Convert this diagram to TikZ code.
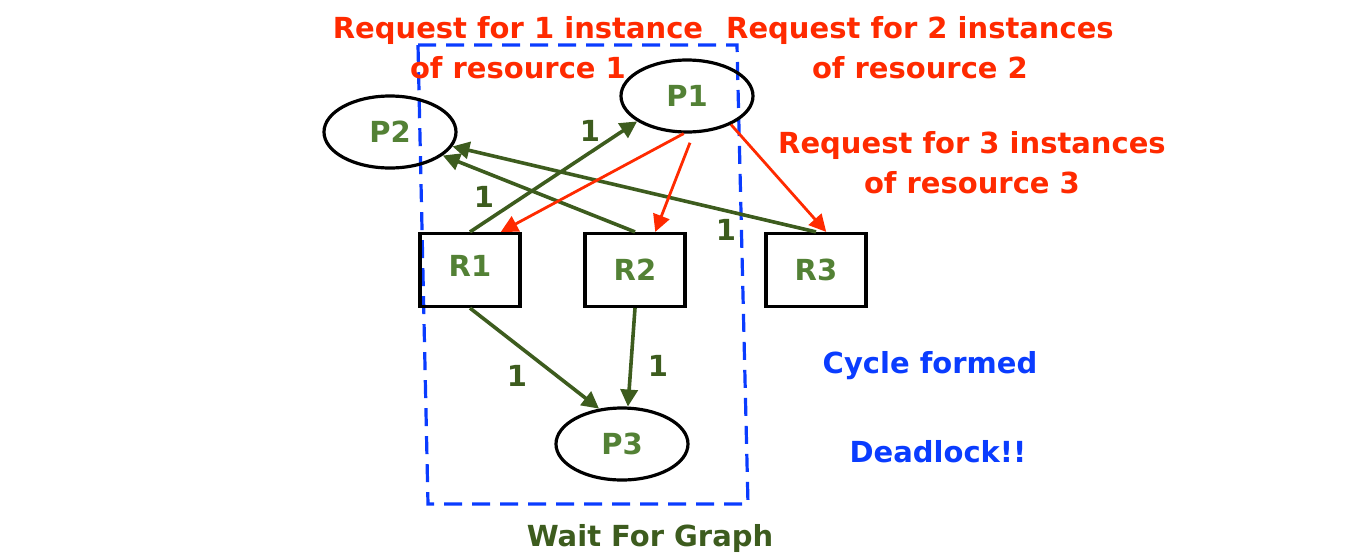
\documentclass[tikz,border=0pt]{standalone}
\usepackage{fontspec}
\setmainfont{DejaVu Sans}
\usetikzlibrary{arrows.meta,shapes.geometric}
\definecolor{ReqRed}{HTML}{FF2A00}
\definecolor{NodeGreen}{HTML}{538135}
\definecolor{EdgeGreen}{HTML}{3D5C1E}
\definecolor{WfgBlue}{HTML}{0A3CFF}
\begin{document}
\begin{tikzpicture}[x=0.5pt,y=-0.5pt,
    every node/.style={font=\fontsize{14.5}{20}\selectfont\bfseries},
    proc/.style={ellipse,draw=black,line width=1.6pt,minimum width=66pt,
      minimum height=36pt,inner sep=0pt,text=NodeGreen},
    res/.style={rectangle,draw=black,line width=1.6pt,minimum width=50pt,
      minimum height=36.5pt,inner sep=0pt,text=NodeGreen},
    held/.style={-{Triangle[length=8.5pt,width=8.5pt]},line width=1.8pt,EdgeGreen},
    req/.style={-{Triangle[length=8.5pt,width=8.5pt]},line width=1.4pt,ReqRed},
    cnt/.style={text=EdgeGreen},
    note/.style={text=ReqRed,align=center}
  ]
    \useasboundingbox (0,0) rectangle (1357,558);
    % wait for graph region
    \draw[WfgBlue,line width=1.6pt,dash pattern=on 9pt off 5pt]
      (418,45) -- (737,45) -- (748,504) -- (428,504) -- cycle;
    \node[proc] (P1) at (687,96) {P1};
    \node[proc] (P2) at (390,132) {P2};
    \node[proc] (P3) at (622,444) {P3};
    \node[res] (R1) at (470,270) {\raisebox{4pt}{R1}};
    \node[res] (R2) at (635,270) {R2};
    \node[res] (R3) at (816,270) {R3};
    % allocations
    \draw[held] (R1.north) -- (P1.207);
    \draw[held] (R2.north) -- (P2.336);
    \draw[held] (R3.north) -- (P2.347);
    \draw[held] (R1.south) -- (P3.123);
    \draw[held] (R2.south) -- (P3.81);
    % requests
    \draw[req] (P1.265) -- (R1.51);
    \draw[req,shorten <=5pt] (P1.280) -- (R2.62);
    \draw[req] (P1.327) -- (R3.75);
    \node[cnt] (n1) at (590,131) {1};
    \node[cnt] (n2) at (484,197) {1};
    \node[cnt] (n3) at (726,230) {1};
    \node[cnt] (n4) at (517,376) {1};
    \node[cnt] (n5) at (658,366) {1};
    \node[note] (q1) at (518,48) {Request for 1 instance\\of resource 1};
    \node[note] (q2) at (920,48) {Request for 2 instances\\of resource 2};
    \node[note] (q3) at (972,163) {Request for 3 instances\\of resource 3};
    \node[text=WfgBlue] (cyc) at (930,366) {Cycle formed};
    \node[text=WfgBlue] (dl) at (938,452) {Deadlock!!};
    \node[text=EdgeGreen] (wfg) at (650,538) {Wait For Graph};
\end{tikzpicture}
\end{document}
